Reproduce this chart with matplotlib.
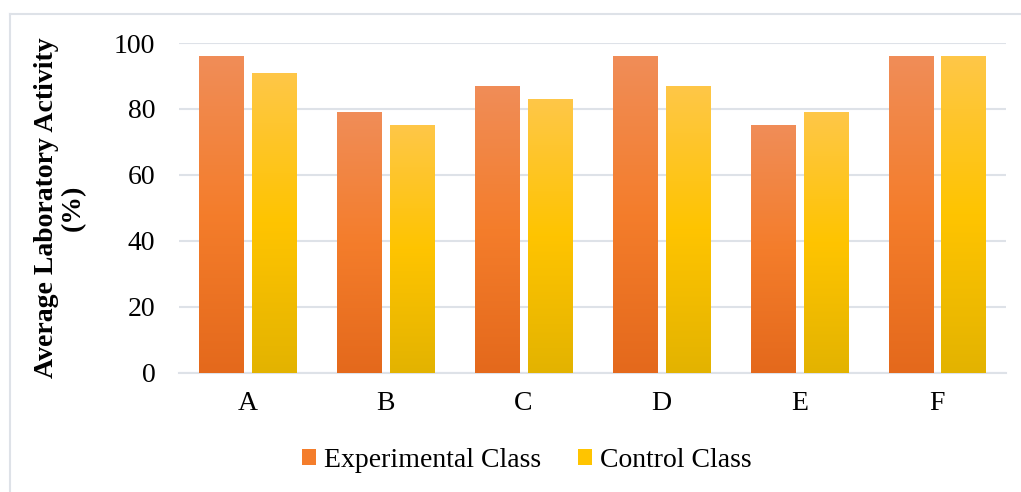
import matplotlib
matplotlib.use("Agg")
import matplotlib.pyplot as plt
import numpy as np
from matplotlib.colors import LinearSegmentedColormap
from matplotlib.lines import Line2D
from matplotlib.patches import Patch

classes = ['A', 'B', 'C', 'D', 'E', 'F']
experimental = [96, 79, 87, 96, 75, 96]
control = [91, 75, 83, 87, 79, 96]

plt.rcParams['font.family'] = ['Liberation Serif', 'DejaVu Serif']
fs = 20

fig = plt.figure(figsize=(10.21, 4.92), dpi=100)
ax = fig.add_axes([0.1753, 0.2419, 0.81, 0.6707])

# gradient colormaps (top light, middle saturated, bottom darker)
orange_cm = LinearSegmentedColormap.from_list('orange', ['#E4691C', '#F47D2B', '#F08D58'])
yellow_cm = LinearSegmentedColormap.from_list('yellow', ['#E3B300', '#FFC400', '#FEC748'])

x = np.arange(len(classes))
w = 0.32
off = 0.192
bars_e = ax.bar(x - off, experimental, w, color='#F47D2B', zorder=2)
bars_c = ax.bar(x + off, control, w, color='#FFC400', zorder=2)

grad = np.linspace(0, 1, 256).reshape(-1, 1)
for bars, cm in [(bars_e, orange_cm), (bars_c, yellow_cm)]:
    for b in bars:
        x0, y0 = b.get_x(), b.get_y()
        im = ax.imshow(grad, cmap=cm, origin='lower', aspect='auto',
                       extent=[x0, x0 + b.get_width(), y0, y0 + b.get_height()], zorder=3)
        im.set_clip_path(b)

ax.set_xlim(-0.5, len(classes) - 0.5)
ax.set_ylim(0, 100)
ax.set_yticks([0, 20, 40, 60, 80, 100])
ax.set_xticks(x)
ax.set_xticklabels(classes)
ax.grid(axis='y', color='#DEE2E8', linewidth=1.5, zorder=0)
ax.set_axisbelow(True)
for s in ['top', 'right', 'left']:
    ax.spines[s].set_visible(False)
ax.spines['bottom'].set_color('#DEE2E8')
ax.spines['bottom'].set_linewidth(1.5)
ax.tick_params(axis='both', length=0, labelsize=fs, colors='black')
ax.tick_params(axis='y', pad=17)
ax.tick_params(axis='x', pad=13)

ax.set_ylabel('Average Laboratory Activity\n(%)', fontsize=fs, fontweight='bold',
              labelpad=20, linespacing=1.1)

handles = [Patch(facecolor='#F47D2B'), Patch(facecolor='#FFC400')]
fig.legend(handles, ['Experimental Class', 'Control Class'], loc='center',
           bbox_to_anchor=(0.516, 0.064), ncol=2, frameon=False, fontsize=fs,
           handlelength=0.5, handleheight=0.5, handletextpad=0.3, columnspacing=1.3)

# outer chart border (left and top only visible)
fig.add_artist(Line2D([0.0098, 0.0098], [0, 0.972], color='#DEE2E8', linewidth=1.5))
fig.add_artist(Line2D([0.0098, 1.0], [0.972, 0.972], color='#DEE2E8', linewidth=1.5))

fig.savefig('out.png', dpi=100)
